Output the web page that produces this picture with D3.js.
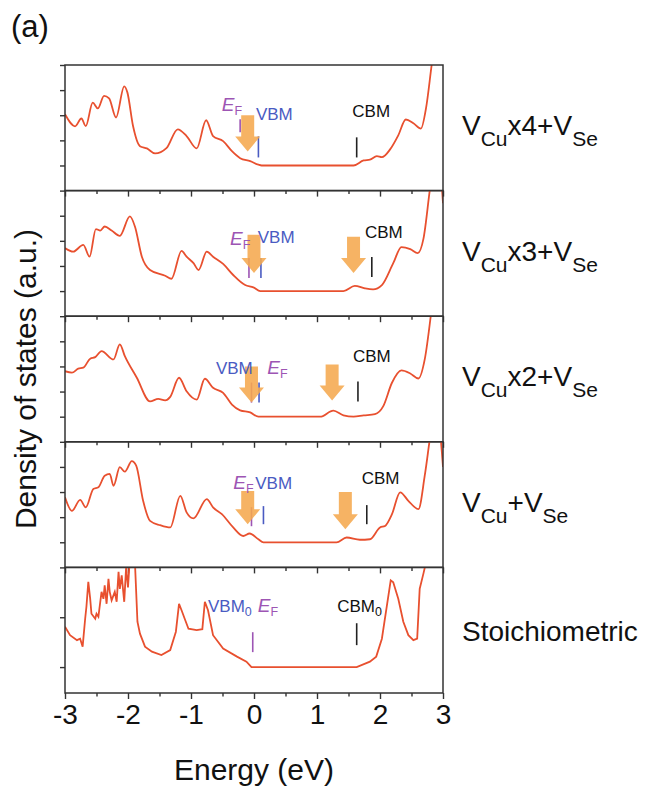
<!DOCTYPE html>
<html>
<head>
<meta charset="utf-8">
<script src="https://cdnjs.cloudflare.com/ajax/libs/d3/7.8.5/d3.min.js"></script>
<style>
  body { margin: 0; background: #fff; font-family: "Liberation Sans", Arial, Helvetica, sans-serif; }
  svg text { font-family: "Liberation Sans", Arial, Helvetica, sans-serif; }
</style>
</head>
<body>
<svg width="657" height="787"></svg>
<script>
// DOS curves, [energy (eV), DOS (a.u.)]
var vcu4 = [[-3,2.04],[-2.84,1.56],[-2.74,1.87],[-2.67,1.57],[-2.56,2.5],[-2.48,2.27],[-2.38,2.77],[-2.30,2.67],[-2.19,1.91],[-2.06,3.15],[-2.01,2.91],[-1.92,1.57],[-1.81,0.77],[-1.70,0.68],[-1.57,0.48],[-1.39,0.69],[-1.21,1.44],[-1.07,1.17],[-0.91,0.68],[-0.76,1.8],[-0.65,1.17],[-0.49,0.97],[-0.35,0.57],[-0.22,0.29],[-0.06,0.17],[0.07,0.03],[0.12,0],[1.58,0],[1.74,0.2],[1.84,0.23],[1.95,0.37],[2.03,0.33],[2.16,0.64],[2.29,1.2],[2.41,1.83],[2.53,1.68],[2.65,1.47],[2.73,2.27],[2.82,4.0],[2.9,5.5],[3,7]];
var vcu3 = [[-3,1.71],[-2.87,1.57],[-2.71,1.84],[-2.61,1.37],[-2.51,2.47],[-2.44,2.41],[-2.37,2.57],[-2.26,2.41],[-2.13,2.2],[-1.97,2.97],[-1.89,2.57],[-1.78,1.37],[-1.65,0.84],[-1.41,0.61],[-1.31,0.49],[-1.15,1.6],[-1.07,1.37],[-0.96,1.11],[-0.88,0.84],[-0.75,1.57],[-0.65,1.37],[-0.49,1.08],[-0.33,0.64],[-0.14,0.24],[-0.01,0.15],[0.1,0],[1.42,0],[1.6,0.21],[1.76,0.11],[1.89,0.07],[2.03,0.24],[2.21,1.11],[2.34,1.75],[2.48,1.67],[2.6,1.51],[2.69,2.09],[2.8,4.2],[2.88,5.5],[2.95,5],[3,3.5]];
var vcu2 = [[-3,1.81],[-2.89,1.75],[-2.79,1.91],[-2.71,1.95],[-2.6,2.31],[-2.52,2.37],[-2.42,2.61],[-2.23,2.28],[-2.13,2.88],[-2.05,2.41],[-1.86,1.55],[-1.65,0.61],[-1.52,0.71],[-1.41,0.65],[-1.33,0.79],[-1.19,1.55],[-1.07,1.01],[-0.91,0.68],[-0.78,1.51],[-0.65,1.15],[-0.49,0.95],[-0.35,0.48],[-0.22,0.25],[-0.06,0.17],[0.07,0],[1.05,0],[1.26,0.24],[1.42,0.05],[1.58,0],[1.74,0.05],[1.92,0.1],[2.05,0.41],[2.19,1.35],[2.34,1.84],[2.48,1.72],[2.61,1.52],[2.71,2.28],[2.82,4.3],[2.9,6],[3,7]];
var vcu1 = [[-3,1.79],[-2.89,1.25],[-2.76,1.69],[-2.67,1.39],[-2.55,2.12],[-2.47,2.19],[-2.37,2.65],[-2.29,2.72],[-2.23,2.25],[-2.13,2.99],[-2.05,2.81],[-1.94,3.23],[-1.87,3.05],[-1.76,1.65],[-1.65,0.85],[-1.49,0.68],[-1.33,0.59],[-1.17,1.85],[-1.07,1.19],[-0.96,0.95],[-0.75,1.72],[-0.65,1.39],[-0.51,1.12],[-0.33,0.59],[-0.17,0.25],[-0.07,0.35],[0.07,0.12],[0.15,0],[1.31,0],[1.47,0.19],[1.68,0.1],[1.84,0.12],[2.0,0.59],[2.08,0.65],[2.19,1.12],[2.32,1.99],[2.45,1.65],[2.61,1.32],[2.71,2.65],[2.79,4.1],[2.87,5.5],[2.95,4.5],[3,3.0]];
var stoich = [[-3,0.81],[-2.92,0.64],[-2.81,0.54],[-2.76,0.57],[-2.72,0.41],[-2.68,0.97],[-2.66,1.21],[-2.63,1.71],[-2.6,1.37],[-2.58,1.07],[-2.52,0.97],[-2.50,1.07],[-2.47,1.01],[-2.42,1.51],[-2.39,1.37],[-2.37,1.64],[-2.34,1.27],[-2.31,1.77],[-2.29,1.51],[-2.26,1.34],[-2.21,1.51],[-2.18,1.31],[-2.15,1.91],[-2.13,1.57],[-2.10,1.84],[-2.06,1.31],[-2.03,2.0],[-2.0,1.6],[-1.97,2.2],[-1.93,2.3],[-1.89,2.1],[-1.85,0.91],[-1.81,0.67],[-1.73,0.41],[-1.62,0.31],[-1.47,0.24],[-1.33,0.34],[-1.24,0.71],[-1.19,1.27],[-1.15,1.14],[-1.10,0.97],[-1.04,0.77],[-0.91,0.74],[-0.82,0.76],[-0.78,1.31],[-0.73,1.14],[-0.65,0.64],[-0.49,0.37],[-0.27,0.21],[-0.12,0.11],[-0.04,0],[1.63,0],[1.84,0.11],[1.94,0.21],[2.03,0.57],[2.11,1.24],[2.17,1.74],[2.21,1.7],[2.29,1.37],[2.37,0.91],[2.45,0.64],[2.53,0.54],[2.59,0.57],[2.63,1.57],[2.69,1.88],[2.73,2.1],[2.8,2.6],[3,3]];

var curves = [vcu4, vcu3, vcu2, vcu1, stoich];
var yDomains = [[-1, 4], [-1, 4], [-1, 4], [-1, 4], [-0.52, 2]];
var yTicks = [[0,1,2,3,4], [0,1,2,3,4], [0,1,2,3,4], [0,1,2,3,4], [0,1,2]];

// panel names: [text, isSubscript]
var panelNames = [
  [["V",0],["Cu",1],["x4+V",0],["Se",1]],
  [["V",0],["Cu",1],["x3+V",0],["Se",1]],
  [["V",0],["Cu",1],["x2+V",0],["Se",1]],
  [["V",0],["Cu",1],["+V",0],["Se",1]],
  [["Stoichiometric",0]]
];

// level markers: energy and [low, high] DOS span of the small tick
var efMarks  = [[-0.22,1.32,1.84],[-0.08,0.52,1.32],[-0.04,0.56,1.36],[-0.04,0.64,1.4],[-0.02,0.3,0.7]];
var vbmMarks = [[0.07,0.32,1.16],[0.11,0.52,1.32],[0.08,0.56,1.36],[0.15,0.72,1.44],null];
var cbmMarks = [[1.63,0.32,1.12],[1.87,0.56,1.36],[1.65,0.6,1.4],[1.79,0.72,1.48],[1.63,0.44,0.88]];
// orange arrows: [energy, top, tip]
var arrows = [
  [[-0.1,2.0,0.56]],
  [[0.0,2.24,0.72],[1.58,2.16,0.72]],
  [[-0.04,2.0,0.56],[1.24,2.08,0.64]],
  [[-0.1,2.04,0.72],[1.45,2.0,0.52]],
  []
];
var xMajor = [-3,-2,-1,0,1,2,3];
var xMinor = [-2.5,-1.5,-0.5,0.5,1.5,2.5];

// annotation text placement (energy, DOS) per panel
var notes = [
  [{t:"EF",x:-0.51,y:2.16},{t:"VBM",x:0.03,y:1.8},{t:"CBM",x:1.56,y:1.92}],
  [{t:"EF",x:-0.38,y:1.84},{t:"VBM",x:0.06,y:1.92},{t:"CBM",x:1.76,y:2.12}],
  [{t:"VBM",x:-0.02,y:1.68,end:1},{t:"EF",x:0.21,y:1.68},{t:"CBM",x:1.57,y:2.16}],
  [{t:"EF",x:-0.33,y:2.12},{t:"VBM",x:0.02,y:2.12},{t:"CBM",x:1.71,y:2.32}],
  [{t:"VBM0",x:-0.73,y:1.1},{t:"EF",x:0.06,y:1.1},{t:"CBM0",x:1.32,y:1.1}]
];

var svg = d3.select("svg");
var left = 65, right = 443, top0 = 65, H = 125.6;
var red = "#e8502f", purple = "#9d55b4", blue = "#4a5bc2", axisCol = "#333";

var x = d3.scaleLinear().domain([-3, 3]).range([left, right]);

curves.forEach(function(data, i) {
  var T = top0 + i * H;
  var y = d3.scaleLinear().domain(yDomains[i]).range([T + H, T]);
  var g = svg.append("g");

  g.append("clipPath").attr("id", "clip" + i)
    .append("rect").attr("x", left).attr("y", T).attr("width", right - left).attr("height", H);

  var line = d3.line()
    .x(function(d) { return x(d[0]); })
    .y(function(d) { return y(d[1]); })
    .curve(i == 4 ? d3.curveLinear : d3.curveMonotoneX);

  g.append("path").datum(data)
    .attr("clip-path", "url(#clip" + i + ")")
    .attr("d", line)
    .attr("fill", "none").attr("stroke", red).attr("stroke-width", 1.8);

  // level ticks
  function mark(m, col) {
    if (!m) return;
    g.append("line").attr("x1", x(m[0])).attr("x2", x(m[0]))
      .attr("y1", y(m[1])).attr("y2", y(m[2]))
      .attr("stroke", col).attr("stroke-width", 1.6);
  }
  mark(efMarks[i], purple);
  mark(vbmMarks[i], blue);
  mark(cbmMarks[i], "#222");

  // arrows
  arrows[i].forEach(function(a) {
    var cx = x(a[0]), y0 = y(a[1]), y1 = y(a[2]);
    var sw = 6.5, hw = 12.5, hl = 15;
    var p = [[cx - sw, y0], [cx + sw, y0], [cx + sw, y1 - hl], [cx + hw, y1 - hl], [cx, y1],
             [cx - hw, y1 - hl], [cx - sw, y1 - hl]];
    g.append("path").attr("d", "M" + p.join("L") + "Z")
      .attr("fill", "#f5a84f").attr("opacity", 0.88);
  });

  // annotation text
  notes[i].forEach(function(n) {
    var t = g.append("text").attr("x", x(n.x)).attr("y", y(n.y))
      .attr("font-size", 17).attr("text-anchor", n.end ? "end" : "start");
    if (n.t == "EF") {
      t.attr("fill", purple);
      t.append("tspan").text("E").attr("font-style", "italic").attr("font-size", 19);
      t.append("tspan").text("F").attr("font-size", 12.5).attr("dy", 4);
    } else {
      var col = n.t.indexOf("VBM") == 0 ? blue : "#111";
      t.attr("fill", col);
      t.append("tspan").text(n.t.slice(0, 3));
      if (n.t.length > 3) t.append("tspan").text(n.t.slice(3)).attr("font-size", 12.5).attr("dy", 4);
    }
  });

  // y axis
  g.append("g").attr("transform", "translate(" + left + ",0)")
    .call(d3.axisLeft(y).tickValues(yTicks[i]).tickSize(5).tickFormat(""))
    .call(function(s) { s.select(".domain").remove(); s.selectAll("line").attr("stroke", axisCol).attr("stroke-width", 1.4); });

  // x axis (bottom of each panel)
  var last = i == curves.length - 1;
  g.append("g").attr("transform", "translate(0," + (T + H) + ")")
    .call(d3.axisBottom(x).tickValues(xMajor).tickSize(6).tickPadding(5)
      .tickFormat(last ? function(d) { return String(d); } : ""))
    .call(function(s) {
      s.select(".domain").remove();
      s.selectAll("line").attr("stroke", axisCol).attr("stroke-width", 1.4);
      s.selectAll("text").attr("font-size", 28).attr("fill", "#111")
        .attr("font-family", "'Liberation Sans', Arial, sans-serif");
    });
  g.append("g").attr("transform", "translate(0," + (T + H) + ")")
    .call(d3.axisBottom(x).tickValues(xMinor).tickSize(3.5).tickFormat(""))
    .call(function(s) { s.select(".domain").remove(); s.selectAll("line").attr("stroke", axisCol).attr("stroke-width", 1.4); });

  // frame
  g.append("rect").attr("x", left).attr("y", T).attr("width", right - left).attr("height", H)
    .attr("fill", "none").attr("stroke", axisCol).attr("stroke-width", 1.5);

  // panel name
  var lbl = svg.append("text").attr("x", 462).attr("y", T + (last ? 74 : 70))
    .attr("font-size", 28).attr("fill", "#111");
  var shifted = 0;
  panelNames[i].forEach(function(p) {
    var ts = lbl.append("tspan").text(p[0]);
    if (p[1]) { ts.attr("font-size", 21).attr("dy", 11 - shifted); shifted = 11; }
    else if (shifted) { ts.attr("dy", -shifted); shifted = 0; }
  });
});

svg.append("text").attr("x", 11).attr("y", 37).attr("font-size", 31).attr("fill", "#111").text("(a)");

svg.append("text")
  .attr("transform", "translate(36," + (top0 + 2.5 * H) + ") rotate(-90)")
  .attr("text-anchor", "middle").attr("font-size", 30).attr("fill", "#111")
  .text("Density of states (a.u.)");

svg.append("text").attr("x", x(0)).attr("y", 780)
  .attr("text-anchor", "middle").attr("font-size", 30).attr("fill", "#111")
  .text("Energy (eV)");
</script>
</body>
</html>
